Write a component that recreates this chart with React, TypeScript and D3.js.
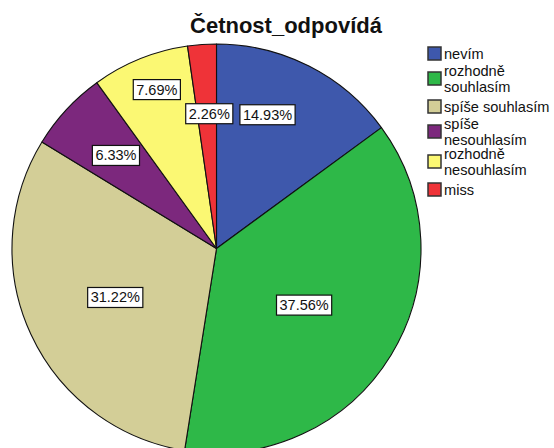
import React, { useEffect, useRef } from 'react';
import * as d3 from 'd3';

const categories = ['nevím', 'rozhodně souhlasím', 'spíše souhlasím', 'spíše nesouhlasím', 'rozhodně nesouhlasím', 'miss'];
const legendLines = [['nevím'], ['rozhodně', 'souhlasím'], ['spíše souhlasím'], ['spíše', 'nesouhlasím'], ['rozhodně', 'nesouhlasím'], ['miss']];
const percents = [14.93, 37.56, 31.22, 6.33, 7.69, 2.26];
const colors = ['#3e58ac', '#2eb848', '#d3ce97', '#7c287d', '#fbf873', '#ef3338'];

// label placement tweaks (fraction of radius, angle shift in degrees)
const labelRadius = [0.7, 0.51, 0.55, 0.67, 0.83, 0.66];
const labelShift = [-6, 1.5, -1, 0, 1.4, 1];

const App: React.FC = () => {
  const svgRef = useRef<SVGSVGElement>(null);

  useEffect(() => {
    if (!svgRef.current) return;
    const width = 554;
    const height = 448;
    const cx = 216.5;
    const cy = 248.5;
    const r = 204.5;

    const svg = d3.select(svgRef.current);
    svg.selectAll('*').remove();

    svg.append('rect').attr('width', width).attr('height', height).attr('fill', '#fff');

    // title
    svg.append('text')
      .attr('x', 286).attr('y', 33)
      .attr('text-anchor', 'middle')
      .attr('font-family', 'Liberation Sans, Arial, sans-serif')
      .attr('font-size', '22px').attr('font-weight', 'bold')
      .attr('fill', '#111')
      .text('Četnost_odpovídá');

    const pie = d3.pie<number>().sort(null).value(d => d);
    const arcs = pie(percents);
    const arc = d3.arc<d3.PieArcDatum<number>>().innerRadius(0).outerRadius(r);

    const g = svg.append('g').attr('transform', `translate(${cx},${cy})`);

    g.selectAll('path.slice')
      .data(arcs)
      .enter().append('path')
      .attr('class', 'slice')
      .attr('d', arc)
      .attr('fill', (_, i) => colors[i])
      .attr('stroke', '#111')
      .attr('stroke-width', 1.1)
      .attr('stroke-linejoin', 'round');

    // labels
    arcs.forEach((a, i) => {
      const mid = (a.startAngle + a.endAngle) / 2 + (labelShift[i] * Math.PI) / 180;
      const lr = r * labelRadius[i];
      const x = Math.sin(mid) * lr;
      const y = -Math.cos(mid) * lr;
      const txt = `${percents[i].toFixed(2)}%`;
      const lg = g.append('g').attr('transform', `translate(${x},${y})`);
      const t = lg.append('text')
        .attr('text-anchor', 'middle')
        .attr('y', 5)
        .attr('font-family', 'Liberation Sans, Arial, sans-serif')
        .attr('font-size', '14.5px')
        .attr('fill', '#111')
        .text(txt);
      const w = (t.node() as SVGTextElement).getComputedTextLength() + 6;
      lg.insert('rect', 'text')
        .attr('x', -w / 2).attr('y', -10)
        .attr('width', w).attr('height', 20)
        .attr('fill', '#fff')
        .attr('stroke', '#111')
        .attr('stroke-width', 1.2);
    });

    // legend
    const legend = svg.append('g');
    let yTop = 47;
    categories.forEach((c, i) => {
      const lines = legendLines[i];
      const two = lines.length > 1;
      const sy = yTop + (two ? 2 : 0);
      legend.append('rect')
        .attr('x', 428).attr('y', sy)
        .attr('width', 13).attr('height', 13)
        .attr('fill', colors[i])
        .attr('stroke', '#333')
        .attr('stroke-width', 1.5);
      lines.forEach((ln, j) => {
        legend.append('text')
          .attr('x', 444)
          .attr('y', two ? yTop + 6 + j * 15.5 : yTop + 12)
          .attr('font-family', 'Liberation Sans, Arial, sans-serif')
          .attr('font-size', '14.6px')
          .attr('fill', '#111')
          .text(ln);
      });
      yTop += two ? 30 : 23;
    });
  }, []);

  return (
    <svg ref={svgRef} width={554} height={448} style={{ position: 'absolute', left: 0, top: 0 }} />
  );
};

export default App;
